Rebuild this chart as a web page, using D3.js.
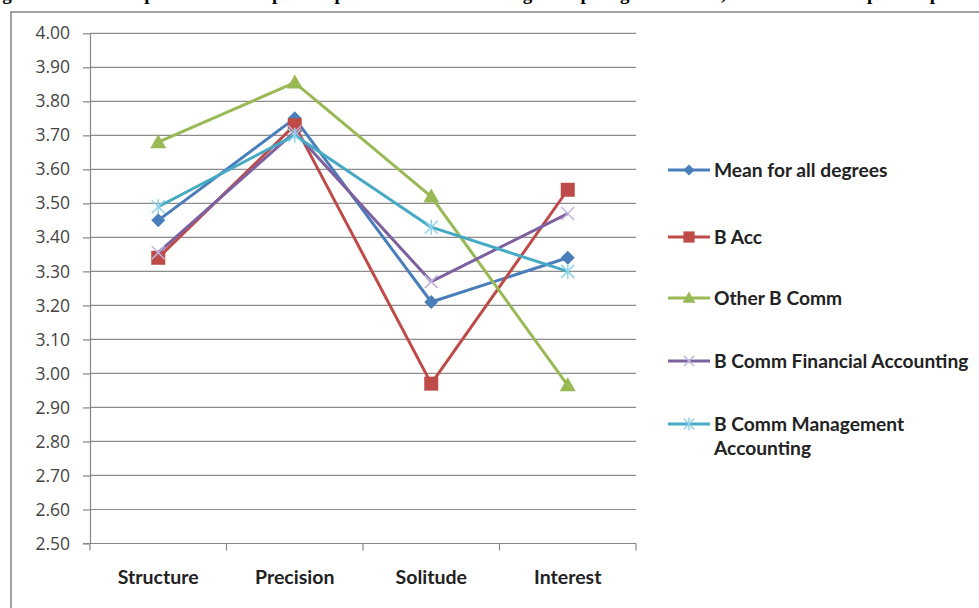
<!DOCTYPE html>
<html>
<head>
<meta charset="utf-8">
<script src="https://cdn.jsdelivr.net/npm/d3@7"></script>
<style>
  html, body { margin: 0; padding: 0; background: #fff; }
  svg { display: block; }
</style>
</head>
<body>
<svg id="chart" width="979" height="608"></svg>
<script>
// Perception dimensions along the x axis
const categories = ["Structure", "Precision", "Solitude", "Interest"];

// Mean perception scores per degree programme
const seriesNames = [
  "Mean for all degrees",
  "B Acc",
  "Other B Comm",
  "B Comm Financial Accounting",
  "B Comm Management Accounting"
];
const meanAll      = [3.45, 3.75, 3.21, 3.34];
const bAcc         = [3.34, 3.73, 2.97, 3.54];
const otherBComm   = [3.68, 3.855, 3.52, 2.965];
const bCommFinAcc  = [3.355, 3.71, 3.27, 3.47];
const bCommMgmtAcc = [3.49, 3.70, 3.43, 3.30];

// Value axis ticks
const yTicks = [2.50, 2.60, 2.70, 2.80, 2.90, 3.00, 3.10, 3.20, 3.30, 3.40,
                3.50, 3.60, 3.70, 3.80, 3.90, 4.00];

const seriesValues = [meanAll, bAcc, otherBComm, bCommFinAcc, bCommMgmtAcc];
const colors  = ["#4a7ebb", "#be4b48", "#98b954", "#7d60a0", "#46aac5"];
const markers = ["diamond", "square", "triangle", "cross", "star"];

const svg = d3.select("#chart");

// Caption line above the chart frame (only its lowest strokes fall inside the view)
svg.append("text")
  .attr("x", -22).attr("y", 0)
  .attr("font-family", "Liberation Serif, serif")
  .attr("font-weight", "bold")
  .attr("font-size", 19)
  .attr("fill", "#000")
  .attr("textLength", 1020)
  .text("Figure 3: Comparison of perceptions across degree programmes, means and perceptions");

// Chart frame
svg.append("rect")
  .attr("x", 11).attr("y", 12)
  .attr("width", 1000).attr("height", 620)
  .attr("fill", "#fff")
  .attr("stroke", "#8a8a8a")
  .attr("stroke-width", 1.6);

const plot = { left: 90, right: 636, top: 33.3, bottom: 543.5 };

const y = d3.scaleLinear().domain([2.5, 4.0]).range([plot.bottom, plot.top]);
const xBand = d3.scaleBand().domain(categories).range([plot.left, plot.right]).paddingInner(0).paddingOuter(0);
const x = c => xBand(c) + xBand.bandwidth() / 2;

// Horizontal gridlines
svg.append("g")
  .selectAll("line")
  .data(yTicks.filter(t => t > 2.5))
  .join("line")
  .attr("x1", plot.left).attr("x2", plot.right)
  .attr("y1", d => y(d)).attr("y2", d => y(d))
  .attr("stroke", "#8c8c8c")
  .attr("stroke-width", 1.2);

// Value axis
const yAxis = svg.append("g")
  .attr("transform", `translate(${plot.left},0)`)
  .call(d3.axisLeft(y).tickValues(yTicks).tickFormat(d3.format(".2f")).tickSize(7).tickSizeOuter(0).tickPadding(13));
yAxis.select(".domain").attr("stroke", "#868686").attr("stroke-width", 1.2);
yAxis.selectAll(".tick line").attr("stroke", "#868686").attr("stroke-width", 1.2);
yAxis.selectAll(".tick text")
  .attr("font-family", "Open Sans, sans-serif")
  .attr("font-size", 17.5)
  .attr("fill", "#454545");

// Category axis with ticks between categories
const boundaries = categories.map(c => xBand(c)).concat([plot.right]);
svg.append("line")
  .attr("x1", plot.left - 7).attr("x2", plot.right)
  .attr("y1", plot.bottom).attr("y2", plot.bottom)
  .attr("stroke", "#868686").attr("stroke-width", 1.2);
svg.append("g")
  .selectAll("line")
  .data(boundaries)
  .join("line")
  .attr("x1", d => d).attr("x2", d => d)
  .attr("y1", plot.bottom).attr("y2", plot.bottom + 7)
  .attr("stroke", "#868686").attr("stroke-width", 1.2);
svg.append("g")
  .selectAll("text")
  .data(categories)
  .join("text")
  .attr("x", d => x(d))
  .attr("y", 584)
  .attr("text-anchor", "middle")
  .attr("font-family", "Lato, sans-serif")
  .attr("font-weight", "bold")
  .attr("font-size", 19.5)
  .attr("fill", "#222")
  .text(d => d);

// Marker drawing helper
function drawMarker(g, type, cx, cy, color, scale) {
  const s = scale || 1;
  if (type === "diamond") {
    const r = 7 * s;
    g.append("path")
      .attr("d", `M${cx},${cy - r}L${cx + r},${cy}L${cx},${cy + r}L${cx - r},${cy}Z`)
      .attr("fill", color);
  } else if (type === "square") {
    const h = 7 * s;
    g.append("rect")
      .attr("x", cx - h).attr("y", cy - h)
      .attr("width", 2 * h).attr("height", 2 * h)
      .attr("fill", color);
  } else if (type === "triangle") {
    const h = 8 * s;
    g.append("path")
      .attr("d", `M${cx},${cy - h}L${cx + h},${cy + h * 0.75}L${cx - h},${cy + h * 0.75}Z`)
      .attr("fill", color);
  } else if (type === "cross") {
    const h = 6.5 * s;
    g.append("path")
      .attr("d", `M${cx - h},${cy - h}L${cx + h},${cy + h}M${cx - h},${cy + h}L${cx + h},${cy - h}`)
      .attr("stroke", "#c3b3dd").attr("stroke-width", 1.5).attr("fill", "none");
  } else if (type === "star") {
    const h = 6.5 * s;
    g.append("path")
      .attr("d", `M${cx - h},${cy - h}L${cx + h},${cy + h}M${cx - h},${cy + h}L${cx + h},${cy - h}M${cx},${cy - h - 1}L${cx},${cy + h + 1}`)
      .attr("stroke", "#8fd3e8").attr("stroke-width", 1.5).attr("fill", "none");
  }
}

// Series lines and markers
const line = d3.line()
  .x((d, i) => x(categories[i]))
  .y(d => y(d));

seriesValues.forEach((vals, si) => {
  const g = svg.append("g");
  g.append("path")
    .datum(vals)
    .attr("d", line)
    .attr("fill", "none")
    .attr("stroke", colors[si])
    .attr("stroke-width", 3)
    .attr("stroke-linejoin", "round");
  vals.forEach((v, i) => drawMarker(g, markers[si], x(categories[i]), y(v), colors[si], 1));
});

// Legend
const legendY = [170, 237, 298, 361, 424];
const legend = svg.append("g");
seriesNames.forEach((name, i) => {
  const g = legend.append("g");
  g.append("line")
    .attr("x1", 668).attr("x2", 710)
    .attr("y1", legendY[i]).attr("y2", legendY[i])
    .attr("stroke", colors[i]).attr("stroke-width", 3);
  drawMarker(g, markers[i], 689, legendY[i], colors[i], 0.8);
  const t = g.append("text")
    .attr("x", 714)
    .attr("font-family", "Lato, sans-serif")
    .attr("font-weight", "bold")
    .attr("font-size", 19.2)
    .attr("fill", "#222");
  if (name === "B Comm Management Accounting") {
    t.append("tspan").attr("x", 714).attr("y", legendY[i] + 7).text("B Comm Management");
    t.append("tspan").attr("x", 714).attr("y", legendY[i] + 31).text("Accounting");
  } else {
    t.attr("y", legendY[i] + 7).text(name);
  }
});
</script>
</body>
</html>
